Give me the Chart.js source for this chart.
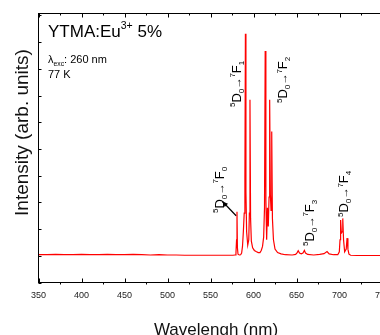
<!DOCTYPE html>
<html>
<head>
<meta charset="utf-8">
<script src="https://cdn.jsdelivr.net/npm/chart.js@4.4.1/dist/chart.umd.min.js"></script>
<style>
html, body { margin: 0; padding: 0; background: #fff; overflow: hidden; }
#wrap { position: relative; width: 400px; height: 350px; }
</style>
</head>
<body>
<div id="wrap"><canvas id="spectrum-chart" width="400" height="350"></canvas></div>
<script>
// emission spectrum (arb. units, baseline ~1)
const wavelengths = [
    350, 360, 370, 380, 390, 400, 410, 420, 430, 440, 450, 460, 470, 480, 490, 500,
    510, 520, 530, 540, 550, 560, 570, 576, 578.5, 579.6, 580.3, 580.8, 581.3, 582,
    583.5, 585, 586.2, 587.2, 588.2, 589.2, 590, 590.6, 591.2, 592, 593.3, 594.5,
    595.2, 595.9, 596.6, 597.5, 599, 601, 603, 605.5, 607.5, 609, 610.5, 611.8,
    612.8, 613.6, 614.4, 615.3, 616.2, 617.2, 618.1, 618.8, 619.6, 620.4, 621.2,
    622, 623.2, 625, 628, 632, 637, 645, 649, 650.8, 652, 653.5, 655.5, 657.5,
    659.2, 660.5, 663, 670, 677, 682, 685.5, 688, 693, 698, 699.8, 700.6, 701.3,
    702.2, 703.1, 703.8, 704.7, 706, 707.8, 708.8, 709.8, 711, 713, 720, 735, 750
];
const intensities = [
    1.04, 1.04, 1.05, 1.04, 1.04, 1.05, 1.04, 1.04, 1.05, 1.04, 1.04, 1.05, 1.04, 1.03, 1.04, 1.03,
    1.03, 1.02, 1.02, 1.02, 1.02, 1.02, 1.02, 1.02, 1.03, 1.1, 1.6, 2.65, 1.3, 1.06,
    1.03, 1.04, 1.1, 1.35, 1.9, 2.6, 4.0, 9.31, 3.4, 1.9, 1.4, 1.6,
    2.6, 6.84, 2.4, 1.55, 1.3, 1.2, 1.16, 1.12, 1.12, 1.2, 1.35, 1.7,
    2.8, 8.67, 3.1, 1.6, 2.8, 2.1, 3.2, 6.84, 3.3, 2.7, 5.65,
    2.4, 1.6, 1.25, 1.12, 1.07, 1.04, 1.03, 1.05, 1.12, 1.19, 1.1, 1.07, 1.1,
    1.2, 1.1, 1.05, 1.03, 1.05, 1.08, 1.16, 1.07, 1.04, 1.04, 1.15, 1.6, 2.34,
    1.85, 1.9, 2.4, 1.6, 1.15, 1.25, 1.66, 1.25, 1.06, 1.02, 1.01, 1.01, 1.01
];
const xMajorTicks = [350, 400, 450, 500, 550, 600, 650, 700, 750];
const xMinorTicks = [375, 425, 475, 525, 575, 625, 675, 725];
const yTicks = [0, 1, 2, 3, 4, 5, 6, 7, 8, 9, 10];

const xTitle = 'Wavelengh (nm)';
const yTitle = 'Intensity (arb. units)';
const sampleName = [{ t: 'YTMA:Eu' }, { t: '3+', s: 'sup' }, { t: ' 5%' }];
const excitation = [{ t: 'λ' }, { t: 'exc', s: 'sub' }, { t: ': 260 nm' }];
const temperature = [{ t: '77 K' }];
const transitions = ['0', '1', '2', '3', '4'];

const FONT = '"Liberation Sans", Arial, sans-serif';

function drawRich(ctx, parts, x, y, size, rotate) {
    ctx.save();
    ctx.translate(x, y);
    if (rotate) ctx.rotate(-Math.PI / 2);
    ctx.textBaseline = 'alphabetic';
    ctx.textAlign = 'left';
    let pos = 0;
    parts.forEach(p => {
        let fs = p.s ? size * 0.62 : size;
        if (p.s === 'arrow') fs = size * 0.85;
        ctx.font = fs + 'px ' + FONT;
        const dy = p.s === 'sup' ? -size * 0.42 : p.s === 'sub' ? size * 0.24 : 0;
        ctx.fillText(p.t, pos, dy);
        pos += ctx.measureText(p.t).width;
    });
    ctx.restore();
}

function transitionParts(n) {
    return [{ t: '5', s: 'sup' }, { t: 'D' }, { t: '0', s: 'sub' }, { t: '→', s: 'arrow' },
            { t: '7', s: 'sup' }, { t: 'F' }, { t: n, s: 'sub' }];
}

const framePlugin = {
    id: 'frame',
    afterDraw(chart) {
        const ctx = chart.ctx;
        const a = chart.chartArea;
        const xs = chart.scales.x;
        const ys = chart.scales.y;
        ctx.save();
        ctx.strokeStyle = '#000';
        ctx.lineWidth = 1;
        ctx.strokeRect(a.left, a.top, a.right - a.left, a.bottom - a.top);

        ctx.beginPath();
        xMajorTicks.forEach(v => {
            const px = Math.round(xs.getPixelForValue(v)) + 0.5;
            ctx.moveTo(px, a.top); ctx.lineTo(px, a.top + 4);
            ctx.moveTo(px, a.bottom); ctx.lineTo(px, a.bottom - 4);
        });
        xMinorTicks.forEach(v => {
            const px = Math.round(xs.getPixelForValue(v)) + 0.5;
            ctx.moveTo(px, a.top); ctx.lineTo(px, a.top + 2);
            ctx.moveTo(px, a.bottom); ctx.lineTo(px, a.bottom + 2);
        });
        yTicks.forEach(v => {
            const py = Math.round(ys.getPixelForValue(v)) + 0.5;
            ctx.moveTo(a.left, py); ctx.lineTo(a.left + 3, py);
        });
        ctx.stroke();

        // axis titles
        ctx.fillStyle = '#111';
        ctx.textAlign = 'center';
        ctx.textBaseline = 'alphabetic';
        ctx.font = '17px ' + FONT;
        ctx.fillText(xTitle, 216, 335);
        ctx.save();
        ctx.translate(28, 132.5);
        ctx.rotate(-Math.PI / 2);
        ctx.font = '19px ' + FONT;
        ctx.fillText(yTitle, 0, 0);
        ctx.restore();

        // sample info
        ctx.fillStyle = '#000';
        drawRich(ctx, sampleName, 48, 36.5, 17, false);
        drawRich(ctx, excitation, 48, 63, 11, false);
        drawRich(ctx, temperature, 48, 78, 11, false);

        // transition labels next to the peaks they name
        const spots = [
            { n: transitions[0], x: 223.5, y: 213 },
            { n: transitions[1], x: 240.5, y: 107 },
            { n: transitions[2], x: 287, y: 103 },
            { n: transitions[3], x: 313.5, y: 246 },
            { n: transitions[4], x: 348, y: 217 }
        ];
        spots.forEach(s => drawRich(ctx, transitionParts(s.n), s.x, s.y, 13, true));

        // arrow from the 5D0-7F0 line up to its label
        const tipX = 222.5, tipY = 201.5;
        const endX = xs.getPixelForValue(579.8), endY = ys.getPixelForValue(2.5);
        ctx.lineWidth = 1.2;
        ctx.beginPath();
        ctx.moveTo(endX, endY);
        ctx.lineTo(tipX, tipY);
        ctx.stroke();
        const ang = Math.atan2(tipY - endY, tipX - endX);
        ctx.beginPath();
        ctx.moveTo(tipX, tipY);
        ctx.lineTo(tipX - 6 * Math.cos(ang - 0.4), tipY - 6 * Math.sin(ang - 0.4));
        ctx.lineTo(tipX - 6 * Math.cos(ang + 0.4), tipY - 6 * Math.sin(ang + 0.4));
        ctx.closePath();
        ctx.fill();
        ctx.restore();
    }
};

const points = wavelengths.map((w, i) => ({ x: w, y: intensities[i] }));

const ctx = document.getElementById('spectrum-chart').getContext('2d');
const spectrumChart = new Chart(ctx, {
    type: 'scatter',
    data: {
        datasets: [{
            label: 'YTMA:Eu 5%',
            data: points,
            showLine: true,
            borderColor: 'rgb(255, 0, 0)',
            borderWidth: 1.2,
            pointRadius: 0,
            tension: 0
        }]
    },
    options: {
        responsive: false,
        animation: false,
        events: [],
        layout: {
            padding: { left: 0, top: 13.5, right: 17.5, bottom: 0 }
        },
        plugins: {
            legend: { display: false },
            tooltip: { enabled: false }
        },
        scales: {
            x: {
                type: 'linear',
                min: 350,
                max: 750,
                afterBuildTicks: s => { s.ticks = xMajorTicks.map(v => ({ value: v })); },
                afterFit: s => { s.height = 350 - 282.5; },
                ticks: {
                    padding: 8,
                    color: '#222',
                    font: { family: FONT, size: 9 },
                    maxRotation: 0
                },
                grid: { display: false, drawTicks: false },
                border: { display: false }
            },
            y: {
                min: 0,
                max: 10.07,
                afterFit: s => { s.width = 38.5; },
                ticks: { display: false },
                grid: { display: false, drawTicks: false },
                border: { display: false }
            }
        }
    },
    plugins: [framePlugin]
});
</script>
</body>
</html>
